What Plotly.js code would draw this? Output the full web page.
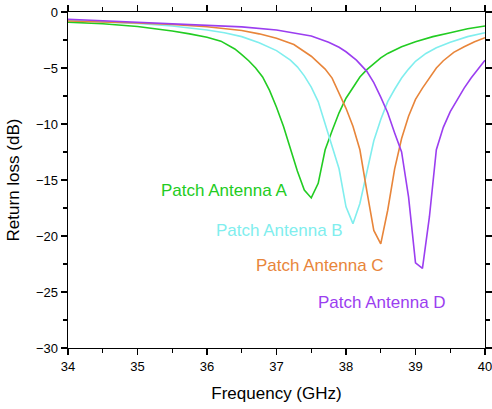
<!DOCTYPE html>
<html>
<head>
<meta charset="utf-8">
<script src="https://cdn.plot.ly/plotly-3.0.1.min.js"></script>
<style>html,body{margin:0;padding:0;background:#fff;}#chart{width:492px;height:409px;}</style>
</head>
<body>
<div id="chart"></div>
<script>
// Patch Antenna A
const xA = [34, 34.5, 35, 35.25, 35.5, 35.75, 36, 36.2, 36.4, 36.5, 36.6, 36.7, 36.8, 36.9, 37, 37.1, 37.2, 37.3, 37.4, 37.5, 37.6, 37.7, 37.8, 37.9, 38, 38.1, 38.2, 38.3, 38.4, 38.5, 38.6, 38.8, 39, 39.25, 39.5, 39.75, 40];
const yA = [-0.9, -1.05, -1.3, -1.48, -1.7, -1.95, -2.25, -2.6, -3.3, -3.8, -4.35, -5.0, -5.8, -7.0, -8.5, -10.2, -12.2, -14.2, -15.9, -16.6, -15.3, -12.3, -10.6, -9.0, -7.7, -6.7, -5.8, -5.15, -4.6, -4.1, -3.7, -3.1, -2.65, -2.2, -1.85, -1.5, -1.25];
// Patch Antenna B
const xB = [34, 34.5, 35, 35.5, 36, 36.25, 36.5, 36.75, 37, 37.2, 37.3, 37.4, 37.5, 37.6, 37.7, 37.8, 37.9, 38, 38.1, 38.2, 38.3, 38.4, 38.5, 38.6, 38.7, 38.8, 38.9, 39, 39.15, 39.3, 39.5, 39.75, 40];
const yB = [-0.75, -0.88, -1.02, -1.25, -1.6, -1.85, -2.2, -2.75, -3.45, -4.3, -4.9, -5.7, -6.7, -8.0, -10.0, -12.1, -14.0, -17.4, -18.9, -17.1, -14.3, -11.5, -9.6, -8.0, -6.9, -5.9, -5.1, -4.4, -3.7, -3.2, -2.7, -2.2, -1.85];
// Patch Antenna C
const xC = [34, 34.5, 35, 35.5, 36, 36.5, 36.75, 37, 37.25, 37.5, 37.6, 37.7, 37.8, 37.9, 38, 38.1, 38.2, 38.3, 38.4, 38.5, 38.6, 38.7, 38.8, 38.9, 39, 39.1, 39.2, 39.3, 39.4, 39.55, 39.7, 39.85, 40];
const yC = [-0.8, -0.88, -0.98, -1.12, -1.32, -1.65, -1.95, -2.35, -2.9, -3.95, -4.5, -5.1, -5.9, -7.2, -8.6, -10.2, -12.3, -16.0, -19.5, -20.7, -17.7, -14.0, -11.3, -9.3, -7.8, -6.8, -5.9, -5.0, -4.35, -3.6, -3.1, -2.65, -2.3];
// Patch Antenna D
const xD = [34, 34.5, 35, 35.5, 36, 36.5, 37, 37.25, 37.5, 37.75, 37.9, 38, 38.15, 38.3, 38.4, 38.5, 38.6, 38.7, 38.8, 38.9, 39, 39.1, 39.2, 39.3, 39.4, 39.5, 39.6, 39.7, 39.8, 39.9, 40];
const yD = [-0.65, -0.78, -0.9, -1.02, -1.15, -1.33, -1.6, -1.85, -2.15, -2.7, -3.15, -3.55, -4.3, -5.3, -6.3, -7.6, -9.0, -10.8, -12.5, -16.5, -22.4, -22.9, -18.3, -12.3, -10.3, -8.9, -7.8, -6.8, -5.9, -5.1, -4.3];

const names = ["Patch Antenna A", "Patch Antenna B", "Patch Antenna C", "Patch Antenna D"];
const colors = ["#22cc22", "#80eeee", "#e8853a", "#9b3ef0"];
const labelX = [36.24, 37.05, 37.63, 38.52];
const labelY = [-15.9, -19.55, -22.6, -25.9];

const xs = [xA, xB, xC, xD], ys = [yA, yB, yC, yD];
const traces = xs.map((x, i) => ({
  x: x, y: ys[i], type: 'scatter', mode: 'lines', name: names[i],
  line: {color: colors[i], width: 1.6}
}));

const annotations = names.map((n, i) => ({
  x: labelX[i], y: labelY[i], xref: 'x', yref: 'y', text: n, showarrow: false,
  font: {family: 'Liberation Sans, Arial, sans-serif', size: 17, color: colors[i]}
}));

const axisCommon = {
  showgrid: false, zeroline: false, showline: true, linecolor: '#000', linewidth: 1.3,
  mirror: 'allticks', ticks: 'outside', ticklen: 6, tickwidth: 1.3, tickcolor: '#000',
  ticklabeloverflow: 'allow',
  tickfont: {family: 'Liberation Sans, Arial, sans-serif', size: 13, color: '#000'}
};

const layout = {
  width: 492, height: 409,
  margin: {l: 68, r: 7, t: 12, b: 61},
  paper_bgcolor: '#fff', plot_bgcolor: '#fff',
  showlegend: false,
  xaxis: Object.assign({}, axisCommon, {
    range: [34, 40], dtick: 1, tick0: 34,
    minor: {dtick: 0.5, tick0: 34, ticks: 'outside', ticklen: 3.5, tickwidth: 1.3, tickcolor: '#000'},
    title: {text: 'Frequency (GHz)', standoff: 14, font: {family: 'Liberation Sans, Arial, sans-serif', size: 17, color: '#000'}}
  }),
  yaxis: Object.assign({}, axisCommon, {
    range: [-30, 0], dtick: 5, tick0: 0,
    minor: {dtick: 2.5, tick0: 0, ticks: 'outside', ticklen: 3.5, tickwidth: 1.3, tickcolor: '#000'},
    title: {text: 'Return loss (dB)', standoff: 12, font: {family: 'Liberation Sans, Arial, sans-serif', size: 17, color: '#000'}}
  }),
  annotations: annotations
};

Plotly.newPlot('chart', traces, layout, {displayModeBar: false, staticPlot: true});
</script>
</body>
</html>
